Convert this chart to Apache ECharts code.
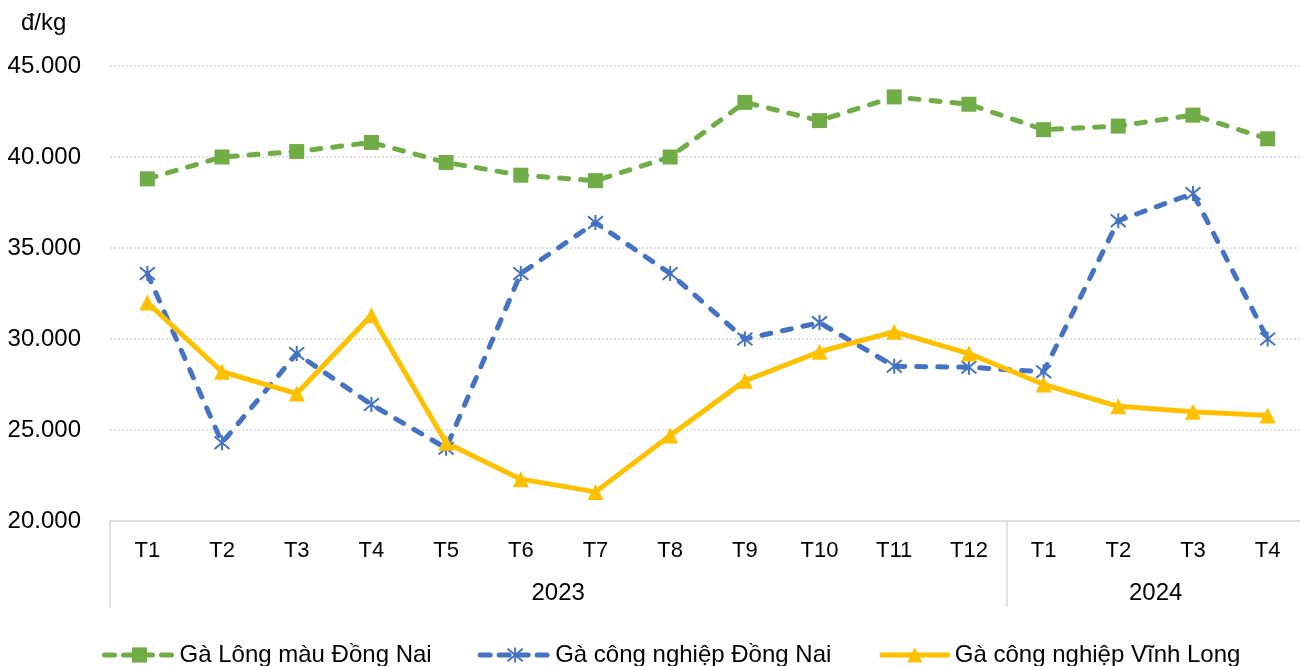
<!DOCTYPE html>
<html>
<head>
<meta charset="utf-8">
<script src="https://cdn.jsdelivr.net/npm/echarts@6/dist/echarts.min.js"></script>
<style>
  html, body { margin: 0; padding: 0; background: #fff; overflow: hidden; }
  #chart { width: 1310px; height: 666px; }
</style>
</head>
<body>
<div id="chart"></div>
<script>
const months = ['T1','T2','T3','T4','T5','T6','T7','T8','T9','T10','T11','T12','T1','T2','T3','T4'];
const years = ['2023', '2024'];
const yearCounts = [12, 4];
const unitLabel = 'đ/kg';
const seriesNames = ['Gà Lông màu Đồng Nai', 'Gà công nghiệp Đồng Nai', 'Gà công nghiệp Vĩnh Long'];
const gaLongMauDongNai = [38800, 40000, 40300, 40800, 39700, 39000, 38700, 40000, 43000, 42000, 43300, 42900, 41500, 41700, 42300, 41000];
const gaCongNghiepDongNai = [33600, 24300, 29200, 26400, 24000, 33600, 36400, 33600, 30000, 30900, 28500, 28450, 28200, 36500, 38000, 30000];
const gaCongNghiepVinhLong = [32000, 28200, 27000, 31300, 24300, 22300, 21600, 24700, 27700, 29300, 30400, 29200, 27500, 26300, 26000, 25800];

// year group boundaries and centers from counts
const boundaries = [0];
const centers = [];
yearCounts.forEach(function (c) {
  const start = boundaries[boundaries.length - 1];
  centers.push(start + c / 2);
  boundaries.push(start + c);
});

const fontFamily = '"Liberation Sans", Arial, sans-serif';
const gridColor = '#d9d9d9';
const asterisk = 'path://M1,1L11,11M11,1L1,11M6,0L6,12';
const colors = ['#70ad47', '#4472c4', '#ffc000'];
const dash = [9, 12];

const chart = echarts.init(document.getElementById('chart'), null, { renderer: 'canvas' });
chart.setOption({
  animation: false,
  backgroundColor: '#fff',
  textStyle: { fontFamily: fontFamily, color: '#000' },
  title: {
    text: unitLabel,
    left: 16,
    top: 6,
    textStyle: { fontSize: 24, fontWeight: 'normal', color: '#000', fontFamily: fontFamily }
  },
  grid: { left: 110, top: 66, bottom: 145, width: 1195, containLabel: false },
  legend: {
    left: 102,
    top: 643,
    padding: 0,
    itemWidth: 70,
    itemHeight: 19,
    itemGap: 46,
    textStyle: { fontSize: 24, color: '#000', fontFamily: fontFamily },
    data: [
      { name: seriesNames[0], lineStyle: { width: 5, type: [10, 9], cap: 'round', color: colors[0] } },
      { name: seriesNames[1], lineStyle: { width: 5, type: [10, 9], cap: 'round', color: colors[1] } },
      { name: seriesNames[2], lineStyle: { width: 5, color: colors[2] } }
    ]
  },
  xAxis: [
    {
      type: 'category',
      data: months,
      boundaryGap: true,
      axisLine: { show: true, lineStyle: { color: gridColor, width: 1.5 } },
      axisTick: { show: false },
      axisLabel: { fontSize: 22, color: '#000', margin: 19, interval: 0, fontFamily: fontFamily },
      splitLine: { show: false }
    },
    {
      type: 'value',
      position: 'bottom',
      min: 0,
      max: boundaries[boundaries.length - 1],
      axisLine: { show: false },
      splitLine: { show: false },
      axisTick: {
        show: true,
        customValues: boundaries,
        length: 86,
        lineStyle: { color: gridColor, width: 1.5 }
      },
      axisLabel: {
        show: true,
        customValues: centers,
        margin: 60,
        fontSize: 24,
        color: '#000',
        fontFamily: fontFamily,
        formatter: function (v) {
          const idx = centers.indexOf(v);
          return idx >= 0 ? years[idx] : '';
        }
      }
    }
  ],
  yAxis: {
    type: 'value',
    min: 20000,
    max: 45000,
    interval: 5000,
    axisLine: { show: false },
    axisTick: { show: false },
    axisLabel: {
      fontSize: 24,
      color: '#000',
      margin: 29,
      fontFamily: fontFamily,
      formatter: function (v) { return String(v).replace(/\B(?=(\d{3})+(?!\d))/g, '.'); }
    },
    splitLine: { show: true, lineStyle: { color: gridColor, type: [2, 2], width: 1.5 } }
  },
  series: [
    {
      name: seriesNames[0],
      type: 'line',
      data: gaLongMauDongNai,
      color: colors[0],
      symbol: 'rect',
      symbolSize: 15,
      lineStyle: { width: 5, type: dash, cap: 'round', color: colors[0] },
      itemStyle: { color: colors[0] }
    },
    {
      name: seriesNames[1],
      type: 'line',
      data: gaCongNghiepDongNai,
      color: colors[1],
      symbol: asterisk,
      symbolSize: 15,
      lineStyle: { width: 5, type: dash, cap: 'round', color: colors[1] },
      itemStyle: { color: colors[1], borderColor: colors[1], borderWidth: 2 }
    },
    {
      name: seriesNames[2],
      type: 'line',
      data: gaCongNghiepVinhLong,
      color: colors[2],
      symbol: 'triangle',
      symbolSize: 16,
      lineStyle: { width: 5, color: colors[2], join: 'round' },
      itemStyle: { color: colors[2] }
    }
  ]
});
</script>
</body>
</html>
